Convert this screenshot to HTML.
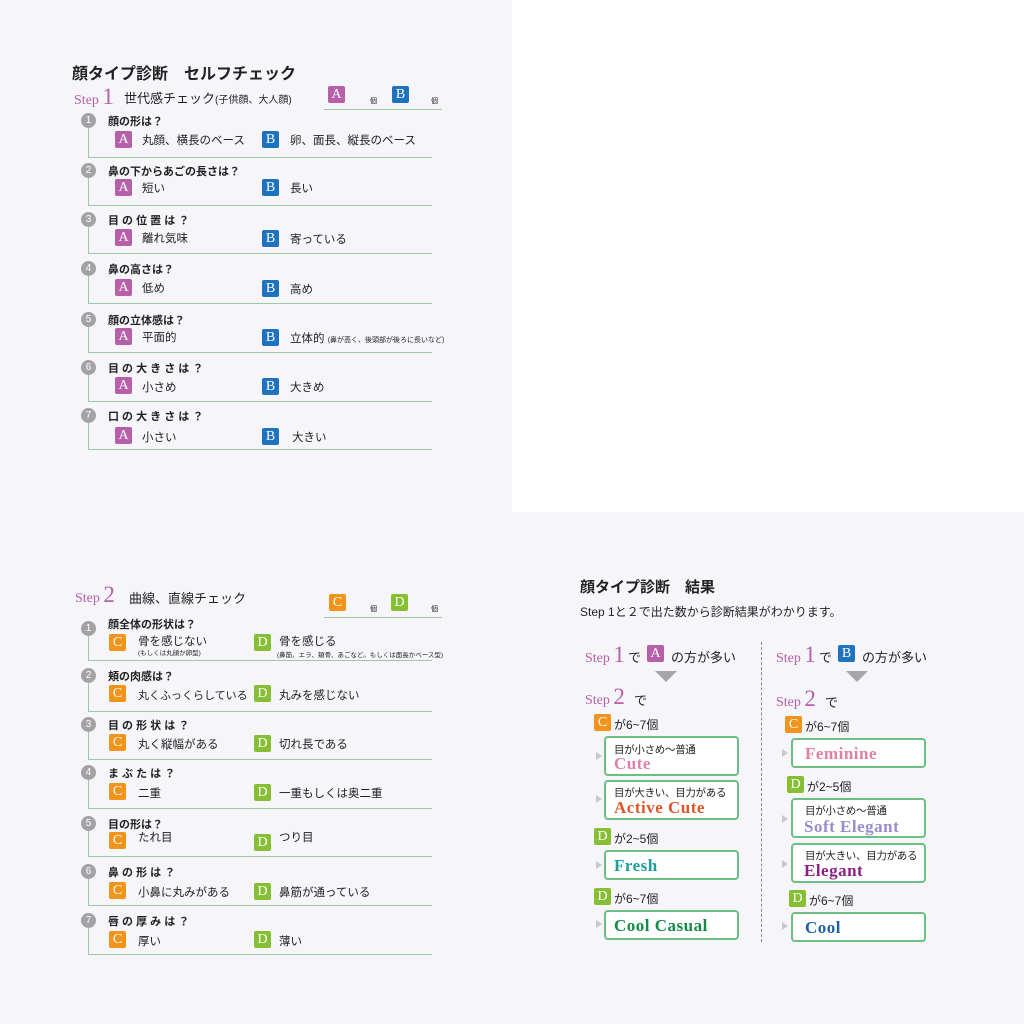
<!DOCTYPE html>
<html><head><meta charset="utf-8"><style>
*{margin:0;padding:0;box-sizing:border-box}
body{width:1024px;height:1024px;position:relative;background:#f6f6fa;font-family:"Liberation Sans","Noto Sans CJK JP",sans-serif;color:#222;overflow:hidden}
div,span{position:absolute;white-space:nowrap}
.tr{left:512px;top:0;width:512px;height:512px;background:#fff}
.ttl{font-size:16px;font-weight:bold}
.stp{font-family:"Liberation Serif",serif;color:#b560a8;font-size:14px}
.stp b{font-size:23px;font-weight:normal}
.q{font-size:11px;font-weight:bold}
.t{font-size:11.5px}
.s{font-size:7px}
.bx{width:17px;height:17px;border-radius:2px;color:#fff;font-family:"Liberation Serif",serif;font-size:14px;line-height:18px;text-align:center}
.A{background:#b760a9}.B{background:#1f73be}.C{background:#f0941c}.D{background:#86bf34}
.cir{width:15px;height:15px;border-radius:50%;background:#a3a3a5;color:#fff;font-size:10px;line-height:15px;text-align:center}
.vl{width:1px;background:#9ccaa6}
.hl{height:1px;background:#9ccaa6}
.box{border:2px solid #6cbf83;border-radius:4px;background:#fff}
.nm{font-family:"Liberation Serif",serif;font-weight:bold;font-size:17px;letter-spacing:.5px}
.sm{font-size:10.5px;letter-spacing:-.3px}
.arr{width:0;height:0;border-top:4px solid transparent;border-bottom:4px solid transparent;border-left:6px solid #c8c8cc}
.tri{width:0;height:0;border-left:11px solid transparent;border-right:11px solid transparent;border-top:11px solid #a6a6a8}
</style></head><body>
<div class="tr"></div>

<!-- Step 1 -->
<div class="ttl" style="left:72px;top:60px">顔タイプ診断　セルフチェック</div>
<div class="stp" style="left:74px;top:84px">Step <b>1</b></div>
<div style="left:124px;top:88px;font-size:13px">世代感チェック<span style="position:static;font-size:10px">(子供顔、大人顔)</span></div>
<div class="bx A" style="left:328px;top:86px">A</div><div class="s" style="left:370px;top:96px">個</div>
<div class="bx B" style="left:392px;top:86px">B</div><div class="s" style="left:431px;top:96px">個</div>
<div class="hl" style="left:324px;top:109px;width:118px"></div>

<div class="vl" style="left:88px;top:120px;height:37px"></div><div class="hl" style="left:88px;top:157px;width:344px"></div>
<div class="cir" style="left:81px;top:113px">1</div><div class="q" style="left:108px;top:113px">顔の形は？</div>
<div class="bx A" style="left:115px;top:131px">A</div><div class="t" style="left:142px;top:132px">丸顔、横長のベース</div>
<div class="bx B" style="left:262px;top:131px">B</div><div class="t" style="left:290px;top:132px">卵、面長、縦長のベース</div>

<div class="vl" style="left:88px;top:170px;height:35px"></div><div class="hl" style="left:88px;top:205px;width:344px"></div>
<div class="cir" style="left:81px;top:163px">2</div><div class="q" style="left:108px;top:163px">鼻の下からあごの長さは？</div>
<div class="bx A" style="left:115px;top:179px">A</div><div class="t" style="left:142px;top:180px">短い</div>
<div class="bx B" style="left:262px;top:179px">B</div><div class="t" style="left:290px;top:180px">長い</div>

<div class="vl" style="left:88px;top:219px;height:34px"></div><div class="hl" style="left:88px;top:253px;width:344px"></div>
<div class="cir" style="left:81px;top:212px">3</div><div class="q" style="left:108px;top:212px">目 の 位 置 は ？</div>
<div class="bx A" style="left:115px;top:229px">A</div><div class="t" style="left:142px;top:230px">離れ気味</div>
<div class="bx B" style="left:262px;top:230px">B</div><div class="t" style="left:290px;top:231px">寄っている</div>

<div class="vl" style="left:88px;top:268px;height:35px"></div><div class="hl" style="left:88px;top:303px;width:344px"></div>
<div class="cir" style="left:81px;top:261px">4</div><div class="q" style="left:108px;top:261px">鼻の高さは？</div>
<div class="bx A" style="left:115px;top:279px">A</div><div class="t" style="left:142px;top:280px">低め</div>
<div class="bx B" style="left:262px;top:280px">B</div><div class="t" style="left:290px;top:281px">高め</div>

<div class="vl" style="left:88px;top:319px;height:33px"></div><div class="hl" style="left:88px;top:352px;width:344px"></div>
<div class="cir" style="left:81px;top:312px">5</div><div class="q" style="left:108px;top:312px">顔の立体感は？</div>
<div class="bx A" style="left:115px;top:328px">A</div><div class="t" style="left:142px;top:329px">平面的</div>
<div class="bx B" style="left:262px;top:329px">B</div><div class="t" style="left:290px;top:330px">立体的 <span style="position:static;font-size:7px">(鼻が高く、後頭部が後ろに長いなど)</span></div>

<div class="vl" style="left:88px;top:367px;height:34px"></div><div class="hl" style="left:88px;top:401px;width:344px"></div>
<div class="cir" style="left:81px;top:360px">6</div><div class="q" style="left:108px;top:360px">目 の 大 き さ は ？</div>
<div class="bx A" style="left:115px;top:377px">A</div><div class="t" style="left:142px;top:379px">小さめ</div>
<div class="bx B" style="left:262px;top:378px">B</div><div class="t" style="left:290px;top:379px">大きめ</div>

<div class="vl" style="left:88px;top:415px;height:34px"></div><div class="hl" style="left:88px;top:449px;width:344px"></div>
<div class="cir" style="left:81px;top:408px">7</div><div class="q" style="left:108px;top:408px">口 の 大 き さ は ？</div>
<div class="bx A" style="left:115px;top:427px">A</div><div class="t" style="left:142px;top:429px">小さい</div>
<div class="bx B" style="left:262px;top:428px">B</div><div class="t" style="left:292px;top:429px">大きい</div>

<!-- Step 2 -->
<div class="stp" style="left:75px;top:582px">Step <b>2</b></div>
<div style="left:129px;top:588px;font-size:13px">曲線、直線チェック</div>
<div class="bx C" style="left:329px;top:594px">C</div><div class="s" style="left:370px;top:604px">個</div>
<div class="bx D" style="left:391px;top:594px">D</div><div class="s" style="left:431px;top:604px">個</div>
<div class="hl" style="left:324px;top:617px;width:118px"></div>

<div class="vl" style="left:88px;top:623px;height:37px"></div><div class="hl" style="left:88px;top:660px;width:344px"></div>
<div class="cir" style="left:81px;top:621px">1</div><div class="q" style="left:108px;top:616px">顔全体の形状は？</div>
<div class="bx C" style="left:109px;top:634px">C</div><div class="t" style="left:138px;top:633px">骨を感じない</div><div style="left:138px;top:647px;font-size:6.5px">(もしくは丸顔か卵型)</div>
<div class="bx D" style="left:254px;top:634px">D</div><div class="t" style="left:279px;top:633px">骨を感じる</div><div style="left:277px;top:649px;font-size:6.5px">(鼻筋、エラ、頬骨、あごなど。もしくは面長かベース型)</div>

<div class="vl" style="left:88px;top:675px;height:36px"></div><div class="hl" style="left:88px;top:711px;width:344px"></div>
<div class="cir" style="left:81px;top:668px">2</div><div class="q" style="left:108px;top:668px">頬の肉感は？</div>
<div class="bx C" style="left:109px;top:685px">C</div><div class="t" style="left:138px;top:687px;font-size:11px">丸くふっくらしている</div>
<div class="bx D" style="left:254px;top:685px">D</div><div class="t" style="left:279px;top:687px">丸みを感じない</div>

<div class="vl" style="left:88px;top:724px;height:35px"></div><div class="hl" style="left:88px;top:759px;width:344px"></div>
<div class="cir" style="left:81px;top:717px">3</div><div class="q" style="left:108px;top:717px">目 の 形 状 は ？</div>
<div class="bx C" style="left:109px;top:734px">C</div><div class="t" style="left:138px;top:736px">丸く縦幅がある</div>
<div class="bx D" style="left:254px;top:735px">D</div><div class="t" style="left:279px;top:736px">切れ長である</div>

<div class="vl" style="left:88px;top:772px;height:36px"></div><div class="hl" style="left:88px;top:808px;width:344px"></div>
<div class="cir" style="left:81px;top:765px">4</div><div class="q" style="left:108px;top:765px">ま ぶ た は ？</div>
<div class="bx C" style="left:109px;top:783px">C</div><div class="t" style="left:138px;top:785px">二重</div>
<div class="bx D" style="left:254px;top:784px">D</div><div class="t" style="left:279px;top:785px">一重もしくは奥二重</div>

<div class="vl" style="left:88px;top:823px;height:33px"></div><div class="hl" style="left:88px;top:856px;width:344px"></div>
<div class="cir" style="left:81px;top:816px">5</div><div class="q" style="left:108px;top:816px">目の形は？</div>
<div class="bx C" style="left:109px;top:832px">C</div><div class="t" style="left:138px;top:829px">たれ目</div>
<div class="bx D" style="left:254px;top:834px">D</div><div class="t" style="left:279px;top:829px">つり目</div>

<div class="vl" style="left:88px;top:871px;height:34px"></div><div class="hl" style="left:88px;top:905px;width:344px"></div>
<div class="cir" style="left:81px;top:864px">6</div><div class="q" style="left:108px;top:864px">鼻 の 形 は ？</div>
<div class="bx C" style="left:109px;top:882px">C</div><div class="t" style="left:138px;top:884px">小鼻に丸みがある</div>
<div class="bx D" style="left:254px;top:883px">D</div><div class="t" style="left:279px;top:884px">鼻筋が通っている</div>

<div class="vl" style="left:88px;top:920px;height:34px"></div><div class="hl" style="left:88px;top:954px;width:344px"></div>
<div class="cir" style="left:81px;top:913px">7</div><div class="q" style="left:108px;top:913px">唇 の 厚 み は ？</div>
<div class="bx C" style="left:109px;top:931px">C</div><div class="t" style="left:138px;top:933px">厚い</div>
<div class="bx D" style="left:254px;top:931px">D</div><div class="t" style="left:279px;top:933px">薄い</div>

<!-- Results -->
<div class="ttl" style="left:580px;top:576px;font-size:15px">顔タイプ診断　結果</div>
<div style="left:580px;top:603px;font-size:12px">Step 1と２で出た数から診断結果がわかります。</div>
<div style="left:761px;top:642px;height:300px;border-left:1px dashed #8a8a8e"></div>

<div class="stp" style="left:585px;top:642px">Step <b>1</b></div><div style="left:628px;top:647px;font-size:13px">で</div>
<div class="bx A" style="left:647px;top:645px">A</div><div style="left:671px;top:647px;font-size:13px">の方が多い</div>
<div class="tri" style="left:655px;top:671px"></div>
<div class="stp" style="left:585px;top:684px">Step <b>2</b></div><div style="left:634px;top:690px;font-size:13px">で</div>
<div class="bx C" style="left:594px;top:714px">C</div><div style="left:614px;top:716px;font-size:12px">が6~7個</div>
<div class="arr" style="left:596px;top:752px"></div>
<div class="box" style="left:604px;top:736px;width:135px;height:40px"></div>
<div class="sm" style="left:614px;top:742px">目が小さめ〜普通</div><div class="nm" style="left:614px;top:754px;color:#e27fae">Cute</div>
<div class="arr" style="left:596px;top:795px"></div>
<div class="box" style="left:604px;top:780px;width:135px;height:40px"></div>
<div class="sm" style="left:614px;top:785px">目が大きい、目力がある</div><div class="nm" style="left:614px;top:798px;color:#e0562a">Active Cute</div>
<div class="bx D" style="left:594px;top:828px">D</div><div style="left:614px;top:830px;font-size:12px">が2~5個</div>
<div class="arr" style="left:596px;top:861px"></div>
<div class="box" style="left:604px;top:850px;width:135px;height:30px"></div>
<div class="nm" style="left:614px;top:856px;color:#1aa09a">Fresh</div>
<div class="bx D" style="left:594px;top:888px">D</div><div style="left:614px;top:890px;font-size:12px">が6~7個</div>
<div class="arr" style="left:596px;top:920px"></div>
<div class="box" style="left:604px;top:910px;width:135px;height:30px"></div>
<div class="nm" style="left:614px;top:916px;color:#138c45">Cool Casual</div>

<div class="stp" style="left:776px;top:642px">Step <b>1</b></div><div style="left:819px;top:647px;font-size:13px">で</div>
<div class="bx B" style="left:838px;top:645px">B</div><div style="left:862px;top:647px;font-size:13px">の方が多い</div>
<div class="tri" style="left:846px;top:671px"></div>
<div class="stp" style="left:776px;top:686px">Step <b>2</b></div><div style="left:825px;top:692px;font-size:13px">で</div>
<div class="bx C" style="left:785px;top:716px">C</div><div style="left:805px;top:718px;font-size:12px">が6~7個</div>
<div class="arr" style="left:782px;top:749px"></div>
<div class="box" style="left:791px;top:738px;width:135px;height:30px"></div>
<div class="nm" style="left:805px;top:744px;color:#e07fa6">Feminine</div>
<div class="bx D" style="left:787px;top:776px">D</div><div style="left:807px;top:778px;font-size:12px">が2~5個</div>
<div class="arr" style="left:782px;top:815px"></div>
<div class="box" style="left:791px;top:798px;width:135px;height:40px"></div>
<div class="sm" style="left:805px;top:803px">目が小さめ〜普通</div><div class="nm" style="left:804px;top:817px;color:#9a8ccc">Soft Elegant</div>
<div class="arr" style="left:782px;top:860px"></div>
<div class="box" style="left:791px;top:843px;width:135px;height:40px"></div>
<div class="sm" style="left:805px;top:848px">目が大きい、目力がある</div><div class="nm" style="left:804px;top:861px;color:#8a1f86">Elegant</div>
<div class="bx D" style="left:789px;top:890px">D</div><div style="left:809px;top:892px;font-size:12px">が6~7個</div>
<div class="arr" style="left:782px;top:922px"></div>
<div class="box" style="left:791px;top:912px;width:135px;height:30px"></div>
<div class="nm" style="left:805px;top:918px;color:#1c62a8">Cool</div>
</body></html>
